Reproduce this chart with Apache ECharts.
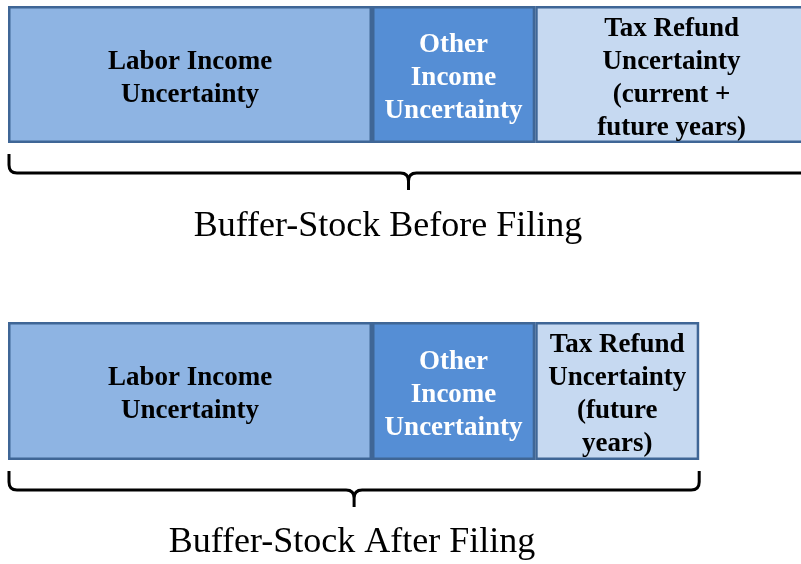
<!DOCTYPE html>
<html>
<head>
<meta charset="utf-8">
<script src="https://cdn.jsdelivr.net/npm/echarts@6/dist/echarts.min.js"></script>
<style>
  html, body { margin: 0; padding: 0; background: #fff; }
  #chart { width: 801px; height: 564px; }
</style>
</head>
<body>
<div id="chart"></div>
<script>
// 两种情形（报税前 / 报税后）
const groups = ['Buffer-Stock Before Filing', 'Buffer-Stock After Filing'];

// 各部分名称
const segments = ['Labor Income', 'Other Income', 'Tax Refund'];

// 宽度（相对单位）
const beforeValues = [45.5, 20.4, 34.1];
const afterValues = [45.5, 20.4, 20.5];

// 方框内文字
const beforeLabels = [
  'Labor Income\nUncertainty',
  'Other\nIncome\nUncertainty',
  'Tax Refund\nUncertainty\n(current +\nfuture years)'
];
const afterLabels = [
  'Labor Income\nUncertainty',
  'Other\nIncome\nUncertainty',
  'Tax Refund\nUncertainty\n(future\nyears)'
];

const colors = ['#8EB4E3', '#558ED5', '#C6D9F1'];
const textColors = ['#000', '#fff', '#000'];

const chart = echarts.init(document.getElementById('chart'));

// 大括号（下方）
const braceItem = (params, api) => {
  const x0 = api.value(0);
  const x1 = api.value(1);
  const p0 = api.coord([x0, 0]);
  const p1 = api.coord([x1, 0]);
  const band = api.size([0, 1])[1];
  const yb = p0[1] + band / 2;
  const yTop = yb + 11;
  const yH = yb + 30;
  const yTip = yb + 47;
  const xa = p0[0] + 1;
  const xb = p1[0];
  const xm = (xa + xb) / 2;
  const r = 8;
  const d = [
    'M', xa, yTop,
    'L', xa, yH - r,
    'Q', xa, yH, xa + r, yH,
    'L', xm - r, yH,
    'Q', xm, yH, xm, yH + r,
    'L', xm, yTip,
    'M', xm, yH + r,
    'Q', xm, yH, xm + r, yH,
    'L', xb - r, yH,
    'Q', xb, yH, xb, yH - r,
    'L', xb, yTop
  ].join(' ');
  return {
    type: 'path',
    shape: { pathData: d },
    style: { fill: null, stroke: '#000', lineWidth: 3 }
  };
};

const barSeries = (values, labels, idx) =>
  values.map((v, i) => ({
    type: 'bar',
    name: segments[i],
    xAxisIndex: idx,
    yAxisIndex: idx,
    stack: 'g' + idx,
    barWidth: '100%',
    silent: true,
    itemStyle: {
      color: colors[i],
      borderColor: '#3F6696',
      borderWidth: 2.5
    },
    label: {
      show: true,
      position: 'inside',
      offset: [0, 4],
      formatter: labels[i],
      color: textColors[i],
      fontFamily: 'Liberation Serif',
      fontWeight: 'bold',
      fontSize: 27,
      lineHeight: 33
    },
    data: [v]
  }));

const titleStyle = { fontFamily: 'Liberation Serif', fontWeight: 'normal', fontSize: 36, color: '#000' };

const option = {
  animation: false,
  backgroundColor: '#fff',
  title: [
    { text: groups[0], left: 383, top: 204, textAlign: 'center', textStyle: titleStyle },
    { text: groups[1], left: 347, top: 520, textAlign: 'center', textStyle: titleStyle }
  ],
  grid: [
    { left: 8, top: 6, width: 800, height: 137, outerBoundsMode: 'none' },
    { left: 8, top: 322, width: 800, height: 138, outerBoundsMode: 'none' }
  ],
  xAxis: [0, 1].map((i) => ({
    type: 'value',
    gridIndex: i,
    min: 0,
    max: 100,
    show: false
  })),
  yAxis: [0, 1].map((i) => ({
    type: 'category',
    gridIndex: i,
    data: [groups[i]],
    show: false
  })),
  series: [
    ...barSeries(beforeValues, beforeLabels, 0),
    ...barSeries(afterValues, afterLabels, 1),
    {
      type: 'custom',
      xAxisIndex: 0,
      yAxisIndex: 0,
      silent: true,
      renderItem: braceItem,
      data: [[0, beforeValues.reduce((a, b) => a + b, 0)]]
    },
    {
      type: 'custom',
      xAxisIndex: 1,
      yAxisIndex: 1,
      silent: true,
      renderItem: braceItem,
      data: [[0, afterValues.reduce((a, b) => a + b, 0)]]
    }
  ]
};

chart.setOption(option);
</script>
</body>
</html>
